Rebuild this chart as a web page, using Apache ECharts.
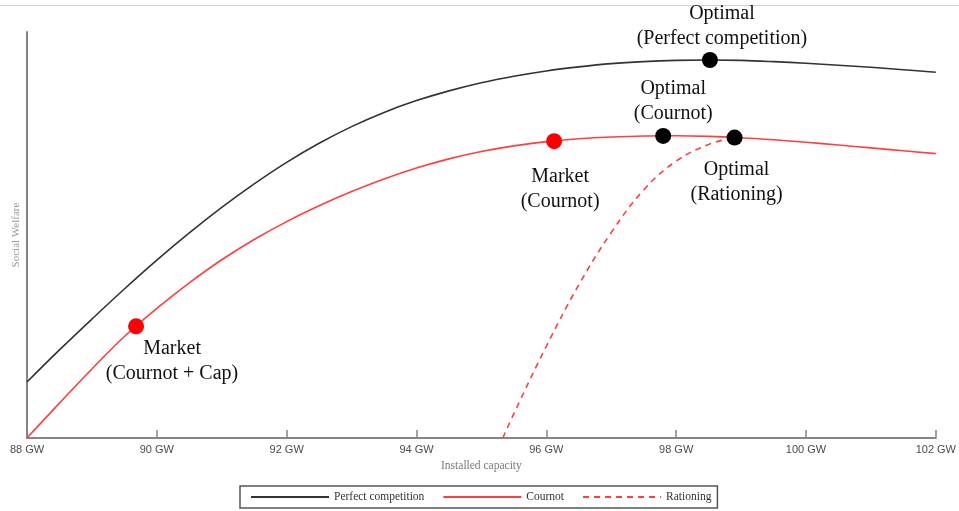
<!DOCTYPE html>
<html>
<head>
<meta charset="utf-8">
<style>
  html, body { margin: 0; padding: 0; background: #ffffff; }
  #chart { width: 959px; height: 511px; }
</style>
<script src="https://cdn.jsdelivr.net/npm/echarts@6/dist/echarts.min.js"></script>
</head>
<body>
<div id="chart"></div>
<script>
// Installed capacity (GW) sampled every 0.5 GW
const capacity = [88, 88.5, 89, 89.5, 90, 90.5, 91, 91.5, 92, 92.5, 93, 93.5, 94, 94.5, 95,
                  95.5, 96, 96.5, 97, 97.5, 98, 98.5, 99, 99.5, 100, 100.5, 101, 101.5, 102];

// Social welfare (index, 0–100) under each market setting
const perfectCompetition = [13.8, 21.7, 29.3, 36.7, 43.8, 50.5, 56.8, 62.6, 67.9, 72.6, 76.7, 80.2, 83.1, 85.5, 87.5,
                            89.1, 90.4, 91.4, 92.2, 92.7, 93.0, 93.1, 93.0, 92.7, 92.3, 91.8, 91.3, 90.7, 90.1];
const cournot = [0, 8.6, 17.0, 25.0, 31.9, 38.2, 43.9, 48.9, 53.3, 57.2, 60.7, 63.8, 66.5, 68.75, 70.55,
                 71.95, 73.0, 73.7, 74.15, 74.4, 74.45, 74.3, 73.95, 73.45, 72.85, 72.15, 71.45, 70.75, 70.05];

// Rationing curve
const rationingCapacity = [95.33, 95.5, 96, 96.5, 97, 97.5, 98, 98.5, 98.9];
const rationing = [0, 6.0, 22.6, 37.7, 50.6, 61.1, 68.2, 72.3, 74.0];

// Highlighted equilibria
const pointNames = ['Optimal\n(Perfect competition)', 'Optimal\n(Cournot)', 'Optimal\n(Rationing)',
                    'Market\n(Cournot)', 'Market\n(Cournot + Cap)'];
const pointCapacity = [98.52, 97.8, 98.9, 96.12, 89.68];
const pointWelfare = [93.1, 74.4, 74.0, 73.1, 27.5];
const pointKind = ['optimal', 'optimal', 'optimal', 'market', 'market'];

// Tick values on the capacity axis
const capacityTicks = [88, 90, 92, 94, 96, 98, 100, 102];

// Label placement for each highlighted point
const labelPlacement = [
  { position: 'top', distance: 1, offset: [12, 0] },
  { position: 'top', distance: 2, offset: [10, 0] },
  { position: 'bottom', distance: 12, offset: [2, 0] },
  { position: 'bottom', distance: 15, offset: [6, 0] },
  { position: 'bottom', distance: 2, offset: [36, 0] }
];

const serif = '"Liberation Serif", "DejaVu Serif", serif';
const axisGray = '#858585';
const black = '#333333';
const red = '#ff3e3e';

const zip = (xs, ys) => xs.map((x, i) => [x, ys[i]]);

const chart = echarts.init(document.getElementById('chart'), null, { renderer: 'canvas' });

chart.setOption({
  backgroundColor: '#ffffff',
  animation: false,
  grid: { left: 27, right: 23, top: 32, bottom: 73, containLabel: false },
  graphic: [
    {
      type: 'line',
      shape: { x1: 0, y1: 5.5, x2: 959, y2: 5.5 },
      style: { stroke: '#d0d0d0', lineWidth: 1 },
      silent: true
    }
  ],
  legend: {
    left: 240,
    top: 486,
    padding: [5, 6, 5, 10],
    itemGap: 18,
    itemWidth: 78,
    itemHeight: 10,
    borderColor: '#555555',
    borderWidth: 1.5,
    borderRadius: 0,
    itemStyle: { opacity: 0 },
    textStyle: { fontFamily: serif, fontSize: 11.5, color: '#333' },
    data: ['Perfect competition', 'Cournot', 'Rationing']
  },
  xAxis: {
    type: 'value',
    min: capacityTicks[0],
    max: capacityTicks[capacityTicks.length - 1],
    interval: 2,
    name: 'Installed capacity',
    nameLocation: 'middle',
    nameGap: 19,
    nameTextStyle: { fontFamily: serif, fontSize: 11.5, color: '#7a7a7a' },
    axisLine: { show: true, onZero: false, lineStyle: { color: axisGray, width: 2 } },
    axisTick: { show: true, inside: true, length: 8, lineStyle: { color: axisGray, width: 1.5 } },
    axisLabel: {
      formatter: '{value} GW',
      fontFamily: '"Liberation Sans", Arial, sans-serif',
      fontSize: 11,
      color: '#4a4a4a',
      margin: 6
    },
    splitLine: { show: false }
  },
  yAxis: {
    type: 'value',
    min: 0,
    max: 100,
    name: 'Social Welfare',
    nameLocation: 'middle',
    nameGap: 5,
    nameRotate: 90,
    nameTextStyle: { fontFamily: serif, fontSize: 11, color: '#999' },
    axisLine: { show: true, onZero: false, lineStyle: { color: axisGray, width: 2 } },
    axisTick: { show: false },
    axisLabel: { show: false },
    splitLine: { show: false }
  },
  series: [
    {
      name: 'Perfect competition',
      type: 'line',
      data: zip(capacity, perfectCompetition),
      smooth: 0.4,
      symbol: 'none',
      lineStyle: { color: black, width: 1.6 },
      itemStyle: { color: black },
      z: 3
    },
    {
      name: 'Cournot',
      type: 'line',
      data: zip(capacity, cournot),
      smooth: 0.4,
      symbol: 'none',
      lineStyle: { color: red, width: 1.6 },
      itemStyle: { color: red },
      z: 3
    },
    {
      name: 'Rationing',
      type: 'line',
      data: zip(rationingCapacity, rationing),
      smooth: 0.4,
      symbol: 'none',
      lineStyle: { color: red, width: 1.6, type: [6, 5] },
      itemStyle: { color: red },
      z: 3
    },
    {
      name: 'Equilibria',
      type: 'scatter',
      symbol: 'circle',
      symbolSize: 16,
      z: 5,
      data: pointNames.map((name, i) => ({
        name: name,
        value: [pointCapacity[i], pointWelfare[i]],
        itemStyle: { color: pointKind[i] === 'optimal' ? '#000000' : '#ff0000', opacity: 1 },
        label: labelPlacement[i]
      })),
      label: {
        show: true,
        formatter: p => p.name,
        fontFamily: serif,
        fontSize: 20,
        lineHeight: 25,
        color: '#111',
        align: 'center'
      }
    }
  ]
});
</script>
</body>
</html>
